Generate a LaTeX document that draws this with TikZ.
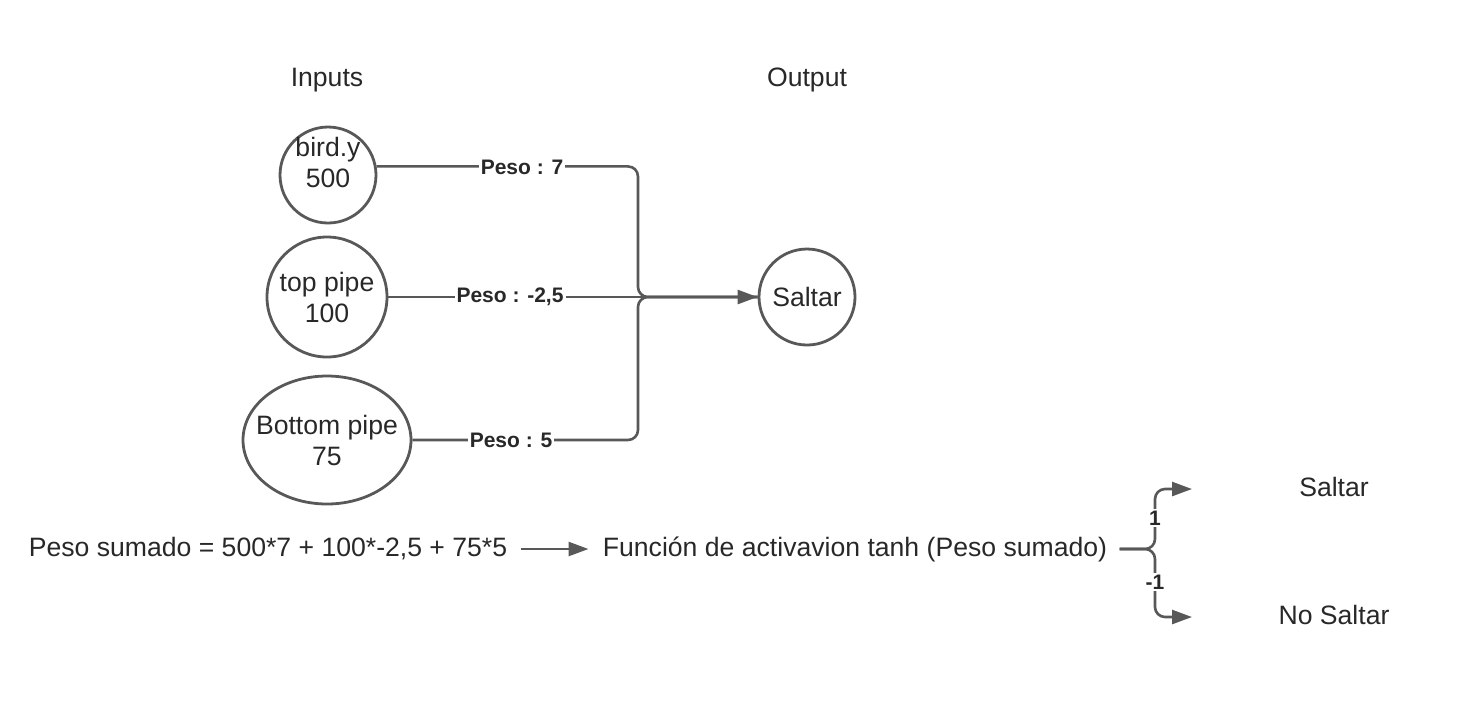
\documentclass[tikz,border=0pt]{standalone}
\usepackage{fontspec}
\setmainfont{Liberation Sans}
\usetikzlibrary{arrows.meta,shapes.geometric}
\definecolor{edge}{RGB}{88,88,88}
\definecolor{ink}{RGB}{40,40,40}
\begin{document}
\begin{tikzpicture}[x=0.5pt,y=-0.5pt]
	\tikzstyle{every node}+=[inner sep=0pt, text=ink, font=\fontsize{13.3}{15.5}\selectfont]
	\tikzstyle{neuron}=[draw=edge, line width=1.4pt, circle, align=center]
	\tikzstyle{peso}=[fill=white, inner sep=1pt, font=\bfseries\fontsize{10.5}{12}\selectfont]
	\tikzstyle{wire}=[draw=edge, line width=1.3pt, rounded corners=5pt]
	\tikzstyle{tip}=[-{Triangle[length=10pt,width=7pt]}]
	\useasboundingbox (0,0) rectangle (1460,720);
	% titles
	\node (I) at (327,80) {Inputs};
	\node (O) at (807,80) {Output};
	% neurons
	\node [neuron, minimum size=48pt] (Y) at (328,175) {};
	\node [align=center] (Yt) at (328,162) {bird.y\\500};
	\node [neuron, minimum size=60pt] (T) at (327,297) {top pipe\\100};
	\node [neuron, ellipse, inner xsep=-6pt, minimum width=84pt, minimum height=64pt] (B) at (327,440) {Bottom pipe\\75};
	\node [neuron, minimum size=48pt] (S) at (807,297) {Saltar};
	\coordinate (J) at (638,297);
	% weights
	\draw [wire] (Y.10) -- (Y.10 -| J) -- (J) -- (S.west);
	\draw [wire] (B.east) -- (B.east -| J) -- (J) -- (S.west);
	\draw [wire, tip] (T.east) -- (S.west);
	\node [peso] at (522,167) {Peso : 7};
	\node [peso] at (510,297) {Peso : -2,5};
	\node [peso] at (511,440) {Peso : 5};
	% sum and activation
	\node (P) at (268,549) {Peso sumado = 500*7 + 100*-2,5 + 75*5};
	\node (F) at (855,549) {Función de activavion tanh (Peso sumado)};
	\draw [wire, tip] ([xshift=6.5pt]P.east) -- ([xshift=-7pt]F.west);
	\coordinate (K) at (1155,549);
	\coordinate (U) at (1192,489);
	\coordinate (D) at (1192,617);
	\draw [wire, tip] ([xshift=6pt]F.east) -- (K) -- (K |- U) -- (U);
	\draw [wire, tip] ([xshift=6pt]F.east) -- (K) -- (K |- D) -- (D);
	\node [peso] at (1155,518) {1};
	\node [peso] at (1155,582) {-1};
	\node (R1) at (1334,487) {Saltar};
	\node (R2) at (1334,615) {No Saltar};
\end{tikzpicture}
\end{document}
